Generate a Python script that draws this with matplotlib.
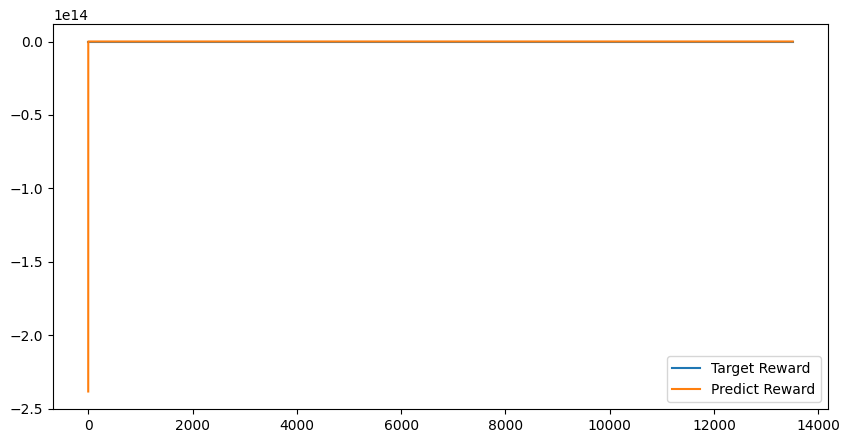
import matplotlib
matplotlib.use("Agg")
import matplotlib.pyplot as plt

# training steps and rewards
steps = [0, 1, 2000, 4000, 6000, 8000, 10000, 12000, 13510]
target_reward = [0.0, 0.0, 0.0, 0.0, 0.0, 0.0, 0.0, 0.0, 0.0]
predict_reward = [-2.384e14, 0.0, 0.0, 0.0, 0.0, 0.0, 0.0, 0.0, 0.0]

fig = plt.figure(figsize=(8.51, 4.43), dpi=100)
ax = fig.add_axes([53 / 851, 34 / 443, 775 / 851, 385 / 443])

ax.plot(steps, target_reward, label="Target Reward")
ax.plot(steps, predict_reward, label="Predict Reward")
ax.legend(loc="lower right")

fig.savefig("out.png", dpi=100)
